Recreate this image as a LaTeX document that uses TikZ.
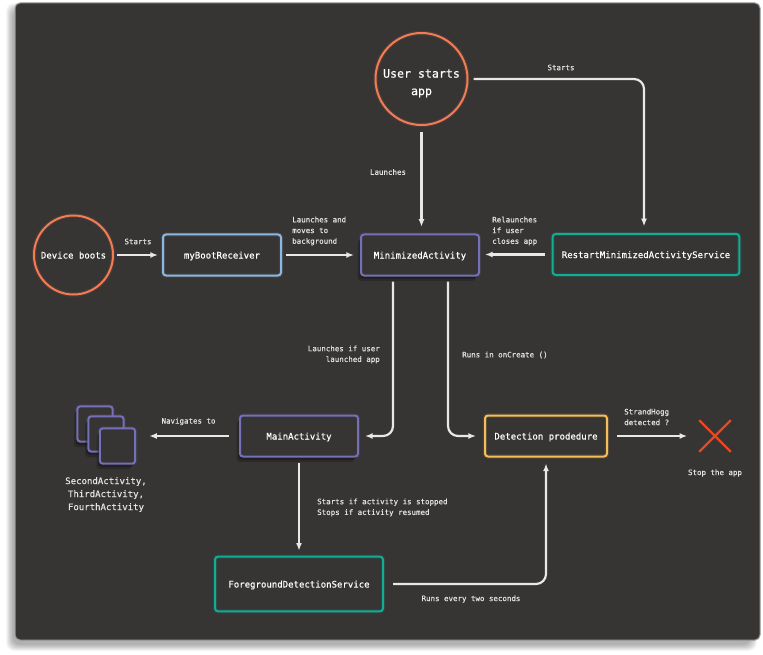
\documentclass[tikz,border=0pt]{standalone}
\usepackage{fontspec}
\setmonofont[RawFeature={embolden=0.4}]{DejaVu Sans Mono}
\usetikzlibrary{arrows.meta, shapes.misc}
\definecolor{panelcol}{HTML}{373534}
\definecolor{linkcol}{HTML}{E8E8E8}
\definecolor{textcol}{HTML}{E2E2E2}
\definecolor{orangecol}{HTML}{F47C55}
\definecolor{bluecol}{HTML}{8DB8E0}
\definecolor{purplecol}{HTML}{7570B8}
\definecolor{tealcol}{HTML}{10AE96}
\definecolor{yellowcol}{HTML}{F5BE58}
\definecolor{crosscol}{HTML}{E8471F}
\newcommand{\midfont}{\ttfamily\fontsize{7.7}{11.1}\selectfont}
\tikzset{
    glow/.style={preaction={draw=#1, line width=0.13cm, opacity=.1}},
    darkshadow/.style={
        preaction={fill=black, opacity=.2, transform canvas={xshift=-0.1cm, yshift=-0.16cm}},
        preaction={fill=black, opacity=.3, transform canvas={xshift=-0.05cm, yshift=-0.09cm}}},
    startnode/.style={circle, draw=orangecol, line width=0.06cm, glow=orangecol, inner sep=0pt, text=white, align=center},
    box/.style={rectangle, rounded corners=0.09cm, draw=#1, line width=0.06cm, glow=#1, inner sep=0pt, text=white,
        text height=0.6em, text depth=0pt, font=\midfont},
    page/.style={box=purplecol, darkshadow, fill=panelcol, minimum size=1.06cm},
    lbl/.style={text=textcol, inner sep=0pt, font=\ttfamily\fontsize{6.37}{9.13}\selectfont},
    link/.style={draw=linkcol, line width=0.065cm, rounded corners=0.3cm, -{Latex[length=0.23cm,width=0.18cm]}}
}
\begin{document}
\begin{tikzpicture}[x=0.03cm,y=-0.03cm]
    \useasboundingbox (0,0) rectangle (763,655);
    \fill[white] (0,0) rectangle (763,655);

    % Panel with its soft shadow
    \foreach \g in {1,...,14} {
        \fill[black, opacity=.022, rounded corners=0.24cm] (13-\g/2,10-\g/2) rectangle (750+\g/2,644+\g/2);
    }
    \filldraw[fill=panelcol, draw=gray!80, line width=0.03cm, rounded corners=0.15cm] (15,3) rectangle (760,640);

    % Circles
    \node[startnode, minimum size=2.37cm, text height=0.6em, text depth=0pt, font=\midfont] (device) at (73.5,255) {Device boots};
    \node[startnode, minimum size=2.76cm, text height=2.95em, font=\ttfamily\fontsize{9.9}{14.9}\selectfont] (user) at (421.5,79) {User starts\\app};

    % Boxes
    \node[box=bluecol, minimum width=3.54cm, minimum height=1.23cm] (receiver) at (222,255) {myBootReceiver};
    \node[box=purplecol, darkshadow, fill=panelcol, minimum width=3.54cm, minimum height=1.23cm] (minimized) at (420,255) {MinimizedActivity};
    \node[box=tealcol, minimum width=5.6cm, minimum height=1.23cm] (restart) at (646,254.5) {RestartMinimizedActivityService};
    \node[box=purplecol, darkshadow, fill=panelcol, minimum width=3.54cm, minimum height=1.23cm] (main) at (299,436) {MainActivity};
    \node[box=yellowcol, minimum width=3.66cm, minimum height=1.23cm] (detection) at (546,436) {Detection prodedure};
    \node[box=tealcol, minimum width=5.04cm, minimum height=1.64cm] (foreground) at (299,584) {ForegroundDetectionService};

    % Stacked activities
    \node[page] (pageone) at (95,424) {};
    \node[page] (pagetwo) at (106,434) {};
    \node[page] (pagethree) at (117.5,446) {};
    \node[lbl, font=\midfont, align=center, anchor=north] (pagenames) at (106,477) {SecondActivity,\\ThirdActivity,\\FourthActivity};

    % Stop sign
    \node[cross out, draw=crosscol, line width=0.07cm, minimum size=0.88cm, inner sep=0pt] (cross) at (715,436) {};

    % Connectors
    \draw[link, shorten <=0.1cm, shorten >=0.12cm] (device) -- (receiver);
    \draw[link, shorten <=0.12cm, shorten >=0.18cm] (receiver) -- (minimized);
    \draw[link, shorten <=0.18cm, shorten >=0.2cm] (user.south) -- (user.south |- minimized.north);
    \draw[link, shorten <=0.15cm, shorten >=0.2cm] (user.east) -| ([xshift=-0.06cm]restart.north);
    \draw[link, shorten <=0.2cm, shorten >=0.15cm] (restart.west) -- (restart.west -| minimized.east);
    \draw[link, shorten <=0.15cm, shorten >=0.18cm] ([xshift=-0.81cm]minimized.south) |- (main.east);
    \draw[link, shorten <=0.15cm, shorten >=0.24cm] ([xshift=0.84cm]minimized.south) |- (detection.west);
    \draw[link, shorten <=0.3cm, shorten >=0.39cm] (main.west) -- (main.west -| pagethree.east);
    \draw[link, shorten <=0.15cm, shorten >=0.15cm] (main) -- (foreground);
    \draw[link, shorten <=0.27cm, shorten >=0.18cm] (foreground.east) -| (detection.south);
    \draw[link, shorten <=0.27cm, shorten >=0.36cm] (detection.east) -- (cross.west);

    % Labels
    \node[lbl] (startsa) at (138,241.5) {Starts};
    \node[lbl, align=left, anchor=west] (launchbg) at (292,231) {Launches and\\moves to\\background};
    \node[lbl] (launches) at (388,172) {Launches};
    \node[lbl] (startsb) at (561,67.5) {Starts};
    \node[lbl, align=left, anchor=west] (relaunch) at (492,231) {Relaunches\\if user\\closes app};
    \node[lbl, align=right, anchor=east] (launchif) at (380,354.5) {Launches if user\\launched app};
    \node[lbl, anchor=west] (runsin) at (462,355) {Runs in onCreate ()};
    \node[lbl] (navigates) at (188.5,421.5) {Navigates to};
    \node[lbl, align=left, anchor=west] (startsif) at (317,507.5) {Starts if activity is stopped\\Stops if activity resumed};
    \node[lbl] (runsevery) at (471,599) {Runs every two seconds};
    \node[lbl, align=left, anchor=west] (hogg) at (624,417) {StrandHogg\\detected ?};
    \node[lbl] (stopapp) at (715,473) {Stop the app};
\end{tikzpicture}
\end{document}
